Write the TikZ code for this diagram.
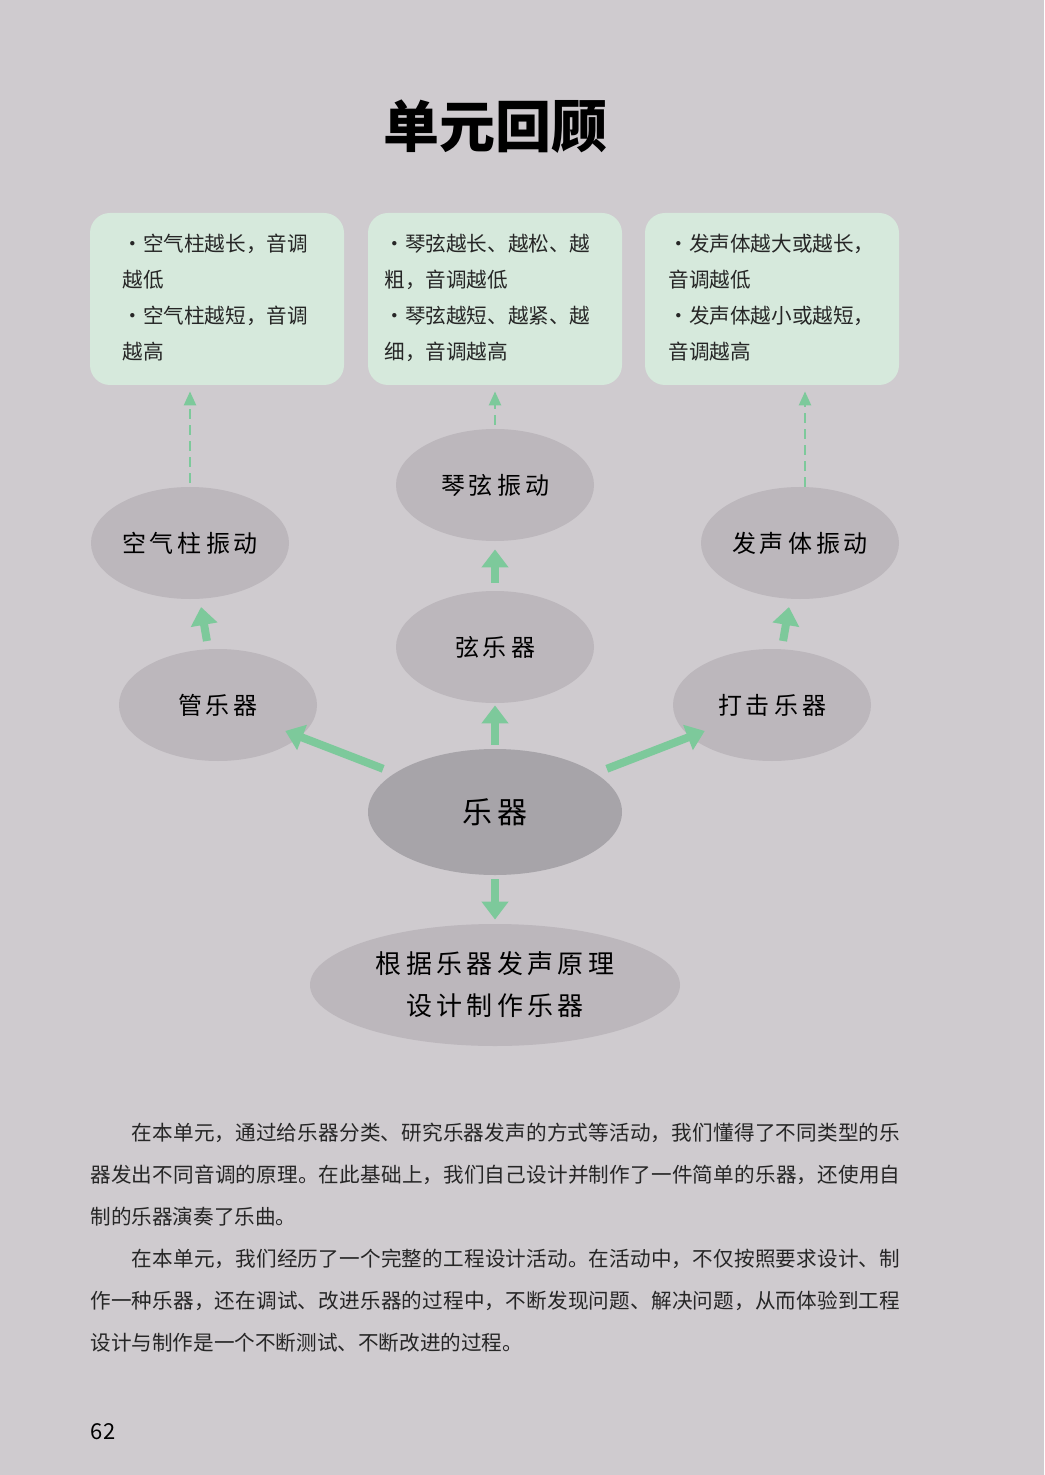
\documentclass[tikz,border=0pt]{standalone}
\usepackage{fontspec}
\setmainfont{Noto Sans CJK SC}
\newfontfamily\cjk{Noto Sans CJK SC}
\XeTeXlinebreaklocale "zh"
\XeTeXlinebreakskip=0pt plus 1pt
\usetikzlibrary{arrows.meta,shapes.geometric}
\definecolor{pagebg}{HTML}{CFCBCF}
\definecolor{boxgreen}{HTML}{D6E9DC}
\definecolor{ovalgrey}{HTML}{BCB7BC}
\definecolor{ovaldark}{HTML}{A7A4A9}
\definecolor{arrowgreen}{HTML}{7DC99B}

\begin{document}
\begin{tikzpicture}[x=0.5pt,y=-0.5pt]
\tikzstyle{oval} = [ellipse,fill=ovalgrey,inner sep=0pt,minimum width=99pt,minimum height=56pt,font=\cjk\fontsize{12}{14}\selectfont]
\tikzstyle{note} = [fill=boxgreen,rounded corners=10pt,minimum width=127pt,minimum height=86pt,inner sep=0pt]
\tikzstyle{notetext} = [anchor=north west,align=left,inner sep=0pt,font=\cjk\fontsize{10.3}{18}\selectfont,color=black!85]
\tikzstyle{fat} = [arrowgreen,line width=4pt,-{Triangle[width=13pt,length=9pt]}]
\tikzstyle{thin} = [arrowgreen,line width=1.2pt,dash pattern=on 5pt off 3pt,-{Triangle[width=6pt,length=7pt]}]

\fill[pagebg] (0,0) rectangle (1044,1475);
\useasboundingbox (0,0) rectangle (1044,1475);

\node[font=\cjk\bfseries\fontsize{28}{30}\selectfont] (title) at (495,127) {单元回顾};

% notes
\node[note] (n1) at (217,299) {};
\node[note] (n2) at (495,299) {};
\node[note] (n3) at (772,299) {};
\node[notetext] at (122,234) {·空气柱越长，音调\\越低\\·空气柱越短，音调\\越高};
\node[notetext] at (384,234) {·琴弦越长、越松、越\\粗，音调越低\\·琴弦越短、越紧、越\\细，音调越高};
\node[notetext] at (668,234) {·发声体越大或越长，\\音调越低\\·发声体越小或越短，\\音调越高};

% ovals
\node[oval] (kq) at (190,543) {空\,气\,柱\,振\,动};
\node[oval] (qx) at (495,485) {琴\,弦\,振\,动};
\node[oval] (fs) at (800,543) {发\,声\,体\,振\,动};
\node[oval] (gy) at (218,705) {管\,乐\,器};
\node[oval] (xy) at (495,647) {弦\,乐\,器};
\node[oval] (dj) at (772,705) {打\,击\,乐\,器};
\node[oval,fill=ovaldark,minimum width=127pt,minimum height=63pt,font=\cjk\fontsize{15}{17}\selectfont] (yq) at (495,812) {乐\,器};
\node[oval,minimum width=185pt,minimum height=61pt,align=center,font=\cjk\fontsize{13}{21}\selectfont] (sj) at (495,985) {根\,据\,乐\,器\,发\,声\,原\,理\\设\,计\,制\,作\,乐\,器};
\coordinate (fstop) at (805,487);

% dashed arrows
\draw[thin,shorten <=2pt,shorten >=3pt] (kq) -- (kq |- n1.south);
\draw[thin,shorten <=2pt,shorten >=3pt] (qx.north -| n2) -- (n2);
\draw[thin,shorten >=3pt] (fstop) -- (fstop |- n3.south);

% thick arrows
\draw[fat,shorten <=4pt,shorten >=4pt] (gy) -- (kq);
\draw[fat,shorten <=4pt,shorten >=4pt] (xy) -- (qx);
\draw[fat,shorten <=4pt,shorten >=4pt] (dj) -- (fs);
\draw[fat,shorten <=6pt,shorten >=-8pt] (yq) -- (gy);
\draw[fat,shorten <=2pt,shorten >=1pt] (yq) -- (xy);
\draw[fat,shorten <=6pt,shorten >=-8pt] (yq) -- (dj);
\draw[fat,shorten <=2pt,shorten >=2pt] (yq) -- (sj);

% text
\node[anchor=north west,inner sep=0pt,text width=405pt,align=justify,font=\cjk\fontsize{10.3}{21}\selectfont,color=black!85] (para) at (90,1123)
{\hspace*{2em}在本单元，通过给乐器分类、研究乐器发声的方式等活动，我们懂得了不同类型的乐器发出不同音调的原理。在此基础上，我们自己设计并制作了一件简单的乐器，还使用自制的乐器演奏了乐曲。\par
\hspace*{2em}在本单元，我们经历了一个完整的工程设计活动。在活动中，不仅按照要求设计、制作一种乐器，还在调试、改进乐器的过程中，不断发现问题、解决问题，从而体验到工程设计与制作是一个不断测试、不断改进的过程。};
\node[font=\fontsize{11}{13}\selectfont] (page) at (103,1432) {62};
\end{tikzpicture}
\end{document}
